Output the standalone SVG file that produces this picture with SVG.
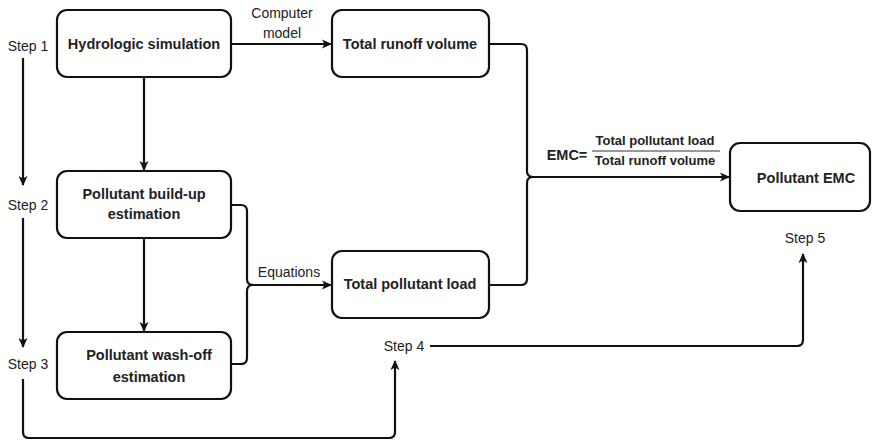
<svg xmlns="http://www.w3.org/2000/svg" width="872" height="441" viewBox="0 0 872 441">
<style>
.box{fill:#fff;stroke:#111;stroke-width:2.2}
.lbl{font-family:"Liberation Sans",Arial,sans-serif;font-weight:bold;font-size:14.5px;fill:#222;text-anchor:middle}
.txt{font-family:"Liberation Sans",Arial,sans-serif;font-size:14px;fill:#222;text-anchor:middle}
.frac{font-family:"Liberation Sans",Arial,sans-serif;font-weight:bold;font-size:13px;fill:#222;text-anchor:middle}
.ln{fill:none;stroke:#111;stroke-width:2.2}
</style>
<defs>
<marker id="ah" viewBox="0 0 10 10" refX="9" refY="5" markerWidth="10" markerHeight="10" markerUnits="userSpaceOnUse" orient="auto">
<path d="M0,0.5 L10,5 L0,9.5 L2.5,5 Z" fill="#111"/>
</marker>
</defs>
<g id="connectors">
<path class="ln" d="M231,44 H331" marker-end="url(#ah)"/>
<path class="ln" d="M489,44 H521 Q527,44 527,50 V171 Q527,177 533,177 H729" marker-end="url(#ah)"/>
<path class="ln" d="M489,285 H521 Q527,285 527,279 V183 Q527,177 533,177"/>
<path class="ln" d="M144,77 V170" marker-end="url(#ah)"/>
<path class="ln" d="M144,238 V331" marker-end="url(#ah)"/>
<path class="ln" d="M231,205 H241 Q247,205 247,211 V279 Q247,285 253,285 H331" marker-end="url(#ah)"/>
<path class="ln" d="M231,364 H241 Q247,364 247,358 V291 Q247,285 253,285"/>
<path class="ln" d="M23,58 V185" marker-end="url(#ah)"/>
<path class="ln" d="M23,218 V347" marker-end="url(#ah)"/>
<path class="ln" d="M23,379 V432 Q23,438 29,438 H389 Q395,438 395,432 V361" marker-end="url(#ah)"/>
<path class="ln" d="M430,346 H797 Q803,346 803,340 V254" marker-end="url(#ah)"/>
<text class="txt" x="282" y="18">Computer</text>
<text class="txt" x="282" y="38">model</text>
<text class="txt" x="289" y="277">Equations</text>
<text class="lbl" x="567" y="160">EMC=</text>
<text class="frac" x="655" y="145">Total pollutant load</text>
<line x1="592" y1="151" x2="720" y2="151" stroke="#333" stroke-width="1"/>
<text class="frac" x="655" y="165">Total runoff volume</text>
<text class="txt" x="28" y="51">Step 1</text>
<text class="txt" x="28" y="210">Step 2</text>
<text class="txt" x="28" y="369">Step 3</text>
<text class="txt" x="404" y="351">Step 4</text>
<text class="txt" x="805" y="243">Step 5</text>
</g>
<g id="hydro">
<rect class="box" x="57" y="10" width="174" height="67" rx="10"/>
<text class="lbl" x="144" y="49">Hydrologic simulation</text>
</g>
<g id="runoff">
<rect class="box" x="332" y="10" width="157" height="67" rx="10"/>
<text class="lbl" x="410" y="49">Total runoff volume</text>
</g>
<g id="buildup">
<rect class="box" x="57" y="171" width="174" height="67" rx="10"/>
<text class="lbl" x="144" y="199">Pollutant build-up</text>
<text class="lbl" x="144" y="219">estimation</text>
</g>
<g id="washoff">
<rect class="box" x="57" y="332" width="174" height="67" rx="10"/>
<text class="lbl" x="149" y="360">Pollutant wash-off</text>
<text class="lbl" x="149" y="382">estimation</text>
</g>
<g id="load">
<rect class="box" x="332" y="251" width="157" height="67" rx="10"/>
<text class="lbl" x="410" y="289">Total pollutant load</text>
</g>
<g id="emc">
<rect class="box" x="730" y="143" width="140" height="68" rx="10"/>
<text class="lbl" x="806" y="183">Pollutant EMC</text>
</g>
</svg>
